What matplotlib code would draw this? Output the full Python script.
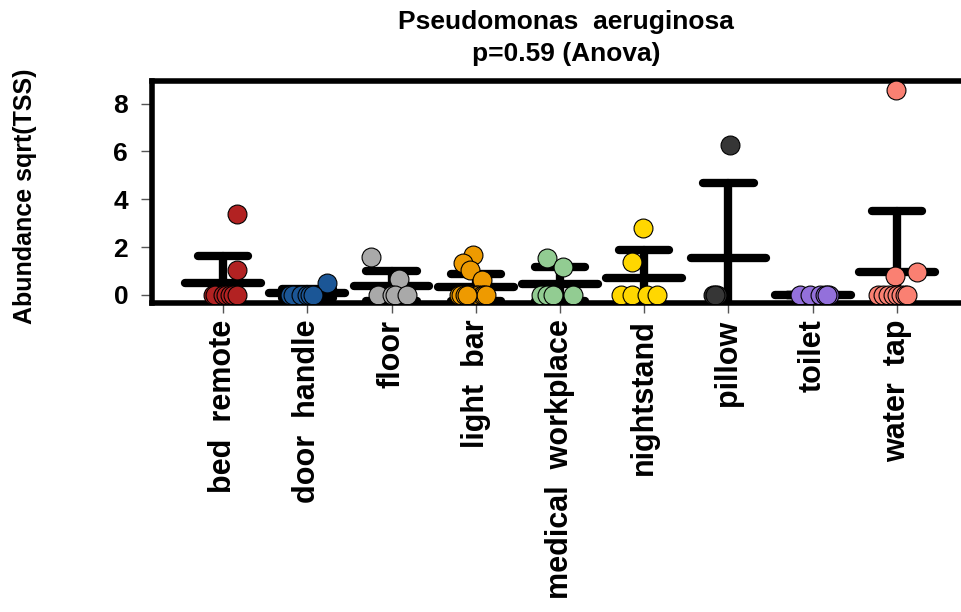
import numpy as np
import matplotlib
matplotlib.use("Agg")
from matplotlib import pyplot as plt

plt.rcParams['font.family'] = ['Liberation Sans', 'DejaVu Sans']
plt.rcParams['font.weight'] = 'bold'

# sample sites (x axis) and point colours
sites = ["bed  remote", "door  handle", "floor", "light  bar", "medical  workplace",
         "nightstand", "pillow", "toilet", "water  tap"]
colors = ["#B22222", "#1B5696", "#A9A9A9", "#EE9A00", "#92CC92",
          "#FFD700", "#363636", "#9370DB", "#FA8072"]

# abundance values, one list per site
bed_remote = [3.39, 1.05, 0, 0, 0, 0, 0, 0, 0]
door_handle = [0.49, 0, 0, 0, 0, 0, 0]
floor = [1.57, 0.68, 0, 0, 0, 0]
light_bar = [1.67, 1.33, 1.05, 0.63, 0, 0, 0, 0, 0, 0, 0, 0, 0, 0, 0]
medical_workplace = [1.53, 1.18, 0, 0, 0, 0]
nightstand = [2.79, 1.39, 0, 0, 0, 0]
pillow = [6.25, 0, 0, 0]
toilet = [0, 0, 0, 0, 0, 0]
water_tap = [8.58, 0.81, 0.95, 0, 0, 0, 0, 0, 0, 0, 0]

# horizontal jitter of each point (category units), same order as values
jit_bed_remote = [0.17, 0.16, -0.12, -0.10, 0.0, 0.03, 0.08, 0.12, 0.17]
jit_door_handle = [0.23, -0.21, -0.17, -0.08, 0.0, 0.03, 0.07]
jit_floor = [-0.24, 0.09, -0.16, 0.0, 0.04, 0.18]
jit_light_bar = [-0.03, -0.15, -0.07, 0.07, -0.2, -0.17, -0.13, -0.08, -0.04, 0.0,
                 0.03, 0.07, 0.1, 0.12, -0.1]
jit_medical_workplace = [-0.15, 0.03, -0.22, -0.15, -0.08, 0.16]
jit_nightstand = [-0.02, -0.14, -0.27, -0.15, 0.03, 0.15]
jit_pillow = [0.02, -0.18, -0.14, -0.16]
jit_toilet = [-0.15, -0.03, 0.09, 0.15, 0.2, 0.17]
jit_water_tap = [-0.01, -0.02, 0.24, -0.22, -0.16, -0.1, -0.05, 0.0, 0.05, 0.1, 0.12]

values = [bed_remote, door_handle, floor, light_bar, medical_workplace,
          nightstand, pillow, toilet, water_tap]
jitters = [jit_bed_remote, jit_door_handle, jit_floor, jit_light_bar,
           jit_medical_workplace, jit_nightstand, jit_pillow, jit_toilet, jit_water_tap]

fig = plt.figure(figsize=(9.61, 6.12), dpi=100)
ax = fig.add_axes([0.158, 0.505, 0.862, 0.363])

for i, (vals, jit, col) in enumerate(zip(values, jitters, colors)):
    x = i + 1
    v = np.array(vals, dtype=float)
    m = v.mean()
    sd = v.std(ddof=1)
    # mean +/- sd, drawn under the points
    kw = dict(color="black", lw=6, solid_capstyle="round", zorder=2)
    ax.plot([x, x], [m - sd, m + sd], **kw)
    ax.plot([x - 0.45, x + 0.45], [m, m], **kw)
    ax.plot([x - 0.3, x + 0.3], [m + sd, m + sd], **kw)
    ax.plot([x - 0.3, x + 0.3], [m - sd, m - sd], **kw)
    ax.scatter(x + np.array(jit), v, s=185, c=col, edgecolors="black",
               linewidths=0.8, zorder=3)

ax.set_xlim(0.153, 9.99)
ax.set_ylim(-0.335, 8.95)
ax.set_yticks([0, 2, 4, 6, 8])
ax.set_xticks(range(1, len(sites) + 1))
ax.set_xticklabels(sites, rotation=90, fontsize=22, fontweight="bold")
ax.tick_params(axis="y", labelsize=19, length=8, width=1, color="#555555", pad=9)
ax.tick_params(axis="x", length=7, width=1, color="#555555", pad=5)

for side in ["left", "top", "bottom"]:
    ax.spines[side].set_linewidth(4)
ax.spines["right"].set_visible(False)

ax.set_ylabel("Abundance sqrt(TSS)", fontsize=18, fontweight="bold")
ax.yaxis.set_label_coords(-0.139, 0.48)
ax.set_title("Pseudomonas  aeruginosa\np=0.59 (Anova)", fontsize=19,
             fontweight="bold", pad=14, linespacing=1.45)

fig.savefig("out.png", dpi=100)
